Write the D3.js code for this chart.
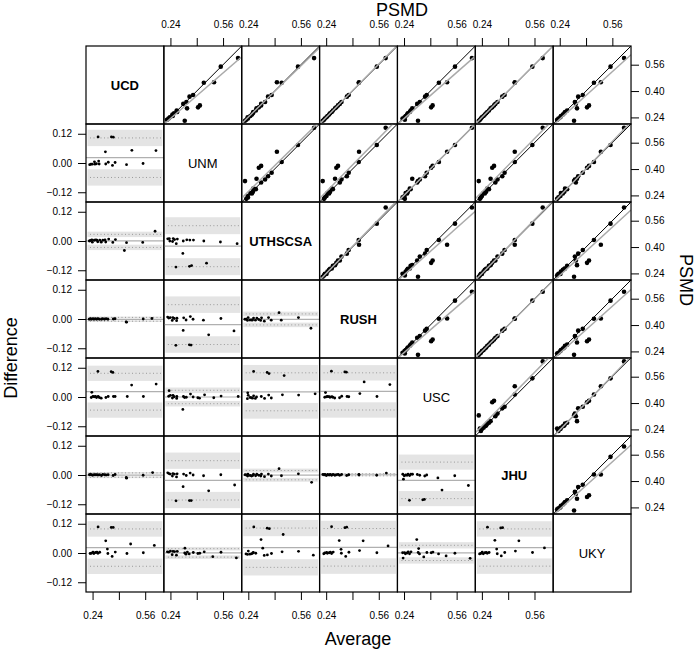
<!DOCTYPE html>
<html>
<head>
<meta charset="utf-8">
<script src="https://cdn.jsdelivr.net/npm/d3@7"></script>
<style>
  body { margin: 0; background: #fff; }
  text { font-family: "Liberation Sans", Arial, sans-serif; }
</style>
</head>
<body>
<div id="chart"></div>
<script>
const SITES = ["UCD", "UNM", "UTHSCSA", "RUSH", "USC", "JHU", "UKY"];
const BOLD_SITES = ["UCD", "UTHSCSA", "RUSH", "JHU"];

// PSMD of the same 20 subjects, same order, measured at each site
const UCD     = [0.220, 0.226, 0.233, 0.241, 0.249, 0.257, 0.265, 0.273, 0.282, 0.295, 0.301, 0.313, 0.322, 0.334, 0.366, 0.376, 0.450, 0.453, 0.548, 0.600];
const UNM     = [0.327, 0.219, 0.228, 0.236, 0.254, 0.252, 0.262, 0.281, 0.278, 0.341, 0.408, 0.419, 0.318, 0.337, 0.356, 0.378, 0.443, 0.505, 0.546, 0.651];
const UTHSCSA = [0.220, 0.228, 0.238, 0.236, 0.252, 0.262, 0.268, 0.270, 0.286, 0.290, 0.304, 0.318, 0.318, 0.342, 0.360, 0.382, 0.443, 0.414, 0.542, 0.640];
const RUSH    = [0.219, 0.227, 0.232, 0.242, 0.248, 0.258, 0.264, 0.274, 0.281, 0.294, 0.302, 0.312, 0.323, 0.333, 0.366, 0.377, 0.438, 0.440, 0.548, 0.602];
const USC     = [0.325, 0.245, 0.231, 0.243, 0.250, 0.259, 0.263, 0.275, 0.280, 0.290, 0.405, 0.414, 0.320, 0.336, 0.368, 0.378, 0.452, 0.502, 0.550, 0.653];
const JHU     = [0.221, 0.228, 0.234, 0.240, 0.250, 0.258, 0.266, 0.273, 0.283, 0.293, 0.303, 0.314, 0.322, 0.335, 0.364, 0.378, 0.440, 0.440, 0.547, 0.610];
const UKY     = [0.327, 0.224, 0.232, 0.244, 0.247, 0.259, 0.268, 0.272, 0.285, 0.345, 0.406, 0.418, 0.338, 0.332, 0.352, 0.380, 0.448, 0.490, 0.549, 0.631];
const siteValues = [UCD, UNM, UTHSCSA, RUSH, USC, JHU, UKY];

const psmdTicks = [0.24, 0.40, 0.56];
const psmdEdgeLabels = ["0.24", "", "0.56"];   // top / bottom strips
const psmdSideLabels = ["0.24", "0.40", "0.56"]; // right strip
const diffTicks = [-0.12, 0.00, 0.12];

const psmdDomain = [0.2, 0.6735];
const diffDomain = [-0.16, 0.16];
const T_CRIT = 2.093; // t(0.975, df = 19)

const width = 700, height = 652;
const gridLeft = 86, gridTop = 46, cw = 77.86, ch = 78;
const FONT = '"Liberation Sans", Arial, sans-serif';

const svg = d3.select("#chart")
    .append("svg")
    .attr("width", width)
    .attr("height", height);

svg.append("defs")
    .append("clipPath")
    .attr("id", "cell")
    .append("rect")
    .attr("width", cw)
    .attr("height", ch);

const x = d3.scaleLinear().domain(psmdDomain).range([0, cw]);
const y = d3.scaleLinear().domain(psmdDomain).range([ch, 0]);
const yd = d3.scaleLinear().domain(diffDomain).range([ch, 0]);

function scatterPanel(g, xs, ys) {
    const pts = d3.zip(xs, ys);
    g.selectAll("circle")
        .data(pts)
        .join("circle")
        .attr("cx", d => x(d[0]))
        .attr("cy", d => y(d[1]))
        .attr("r", 2.3)
        .attr("fill", "#000");

    g.append("line")
        .attr("x1", x(psmdDomain[0])).attr("y1", y(psmdDomain[0]))
        .attr("x2", x(psmdDomain[1])).attr("y2", y(psmdDomain[1]))
        .attr("stroke", "#000")
        .attr("stroke-width", 1);

    // least squares fit of y on x
    const mx = d3.mean(xs), my = d3.mean(ys);
    const b = d3.sum(pts, d => (d[0] - mx) * (d[1] - my)) / d3.sum(xs, v => (v - mx) ** 2);
    const a = my - b * mx;
    g.append("line")
        .attr("x1", x(psmdDomain[0])).attr("y1", y(a + b * psmdDomain[0]))
        .attr("x2", x(psmdDomain[1])).attr("y2", y(a + b * psmdDomain[1]))
        .attr("stroke", "#aaa")
        .attr("stroke-width", 1.5);
}

function baPanel(g, rowVals, colVals) {
    const pts = rowVals.map((v, k) => [(v + colVals[k]) / 2, v - colVals[k]]);
    const diffs = pts.map(d => d[1]);
    const n = diffs.length;
    const m = d3.mean(diffs);
    const sd = d3.deviation(diffs);
    const ci = T_CRIT * sd * Math.sqrt(3 / n);

    [m - 1.96 * sd, m + 1.96 * sd].forEach(loa => {
        g.append("rect")
            .attr("x", 1.5)
            .attr("width", cw - 3)
            .attr("y", yd(loa + ci))
            .attr("height", yd(loa - ci) - yd(loa + ci))
            .attr("fill", "#e4e4e4");
        g.append("line")
            .attr("x1", 4).attr("x2", cw - 2)
            .attr("y1", yd(loa)).attr("y2", yd(loa))
            .attr("stroke", "#999")
            .attr("stroke-width", 1)
            .attr("stroke-dasharray", "1,2.5");
    });

    g.append("line")
        .attr("x1", 0).attr("x2", cw)
        .attr("y1", yd(m)).attr("y2", yd(m))
        .attr("stroke", "#b0b0b0")
        .attr("stroke-width", 1.2);

    g.selectAll("circle")
        .data(pts)
        .join("circle")
        .attr("cx", d => x(d[0]))
        .attr("cy", d => yd(d[1]))
        .attr("r", 1.4)
        .attr("fill", "#000");
}

SITES.forEach((rowSite, i) => {
    SITES.forEach((colSite, j) => {
        const g = svg.append("g")
            .attr("transform", "translate(" + (gridLeft + j * cw) + "," + (gridTop + i * ch) + ")");
        const inner = g.append("g").attr("clip-path", "url(#cell)");

        if (i === j) {
            g.append("text")
                .attr("x", cw / 2)
                .attr("y", ch / 2)
                .attr("text-anchor", "middle")
                .attr("dominant-baseline", "central")
                .attr("font-size", 13)
                .attr("font-weight", BOLD_SITES.includes(rowSite) ? "bold" : "normal")
                .text(rowSite);
        } else if (j > i) {
            scatterPanel(inner, siteValues[j], siteValues[i]);
        } else {
            baPanel(inner, siteValues[i], siteValues[j]);
        }

        g.append("rect")
            .attr("width", cw)
            .attr("height", ch)
            .attr("fill", "none")
            .attr("stroke", "#000")
            .attr("stroke-width", 1.2);
    });
});

function styleAxis(sel) {
    sel.attr("font-family", FONT).attr("font-size", 10);
    sel.select(".domain").remove();
}

const edgeFmt = d => psmdEdgeLabels[psmdTicks.indexOf(d)];
const sideFmt = d => psmdSideLabels[psmdTicks.indexOf(d)];
const diffFmt = d => (d < 0 ? "\u2212" : "") + Math.abs(d).toFixed(2);

for (let j = 1; j < SITES.length; j++) {
    svg.append("g")
        .attr("transform", "translate(" + (gridLeft + j * cw) + "," + gridTop + ")")
        .call(d3.axisTop(x).tickValues(psmdTicks).tickFormat(edgeFmt).tickSize(8).tickPadding(10))
        .call(styleAxis);
}
for (let j = 0; j < SITES.length - 1; j++) {
    svg.append("g")
        .attr("transform", "translate(" + (gridLeft + j * cw) + "," + (gridTop + 7 * ch) + ")")
        .call(d3.axisBottom(x).tickValues(psmdTicks).tickFormat(edgeFmt).tickSize(8).tickPadding(12))
        .call(styleAxis);
}
for (let i = 1; i < SITES.length; i++) {
    svg.append("g")
        .attr("transform", "translate(" + gridLeft + "," + (gridTop + i * ch) + ")")
        .call(d3.axisLeft(yd).tickValues(diffTicks).tickFormat(diffFmt).tickSize(8).tickPadding(6))
        .call(styleAxis);
}
for (let i = 0; i < SITES.length - 1; i++) {
    svg.append("g")
        .attr("transform", "translate(" + (gridLeft + 7 * cw) + "," + (gridTop + i * ch) + ")")
        .call(d3.axisRight(y).tickValues(psmdTicks).tickFormat(sideFmt).tickSize(8).tickPadding(6))
        .call(styleAxis);
}

// axis titles
svg.append("text")
    .attr("x", 402).attr("y", 16)
    .attr("text-anchor", "middle")
    .attr("font-size", 18)
    .text("PSMD");

svg.append("text")
    .attr("x", 358).attr("y", 645)
    .attr("text-anchor", "middle")
    .attr("font-size", 18)
    .text("Average");

svg.append("text")
    .attr("transform", "translate(17,358) rotate(-90)")
    .attr("text-anchor", "middle")
    .attr("font-size", 18)
    .text("Difference");

svg.append("text")
    .attr("transform", "translate(680,280) rotate(90)")
    .attr("text-anchor", "middle")
    .attr("font-size", 18)
    .text("PSMD");
</script>
</body>
</html>
